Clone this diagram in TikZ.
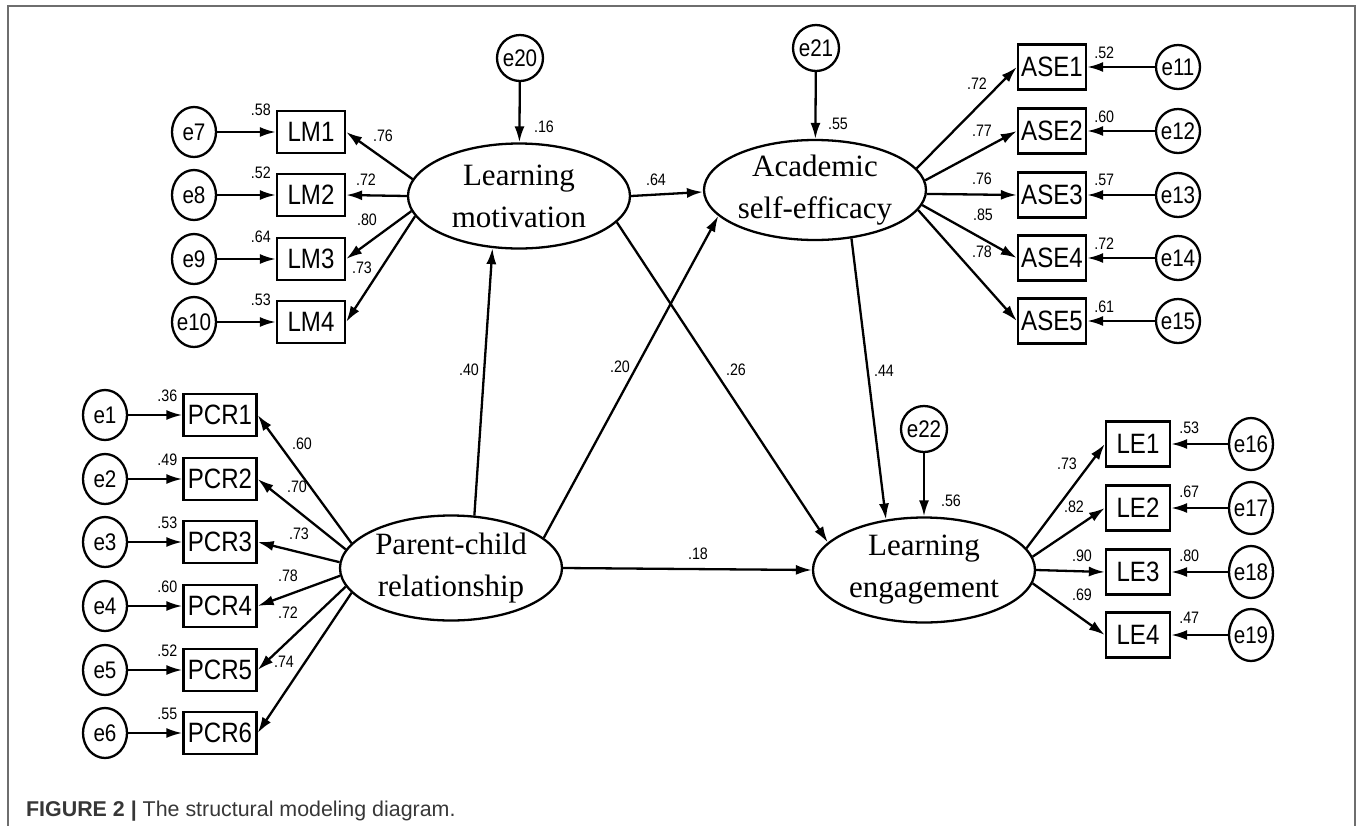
\documentclass[tikz,border=0pt]{standalone}
\usepackage{fontspec}
\setmainfont{Liberation Serif}
\setsansfont{Liberation Sans}
\newfontfamily\narrowsans[FakeStretch=0.86]{Liberation Sans}
\usetikzlibrary{arrows.meta,shapes.geometric,positioning}
\definecolor{framegray}{RGB}{110,110,110}
\definecolor{capgray}{RGB}{55,55,55}
\begin{document}
\begin{tikzpicture}[x=0.5pt, y=-0.5pt, line width=1.15pt, >={Latex[length=8pt,width=5pt]},
    latent/.style={draw, ellipse, inner xsep=-4pt, inner ysep=0pt, minimum width=111pt, minimum height=52.5pt, align=center, font=\fontsize{15.5}{21}\selectfont},
    item/.style={draw, rectangle, inner sep=1pt, minimum width=34pt, minimum height=21pt, font=\fontsize{14}{16}\narrowsans},
    err/.style={draw, ellipse, inner xsep=-3pt, inner ysep=0pt, minimum width=22pt, minimum height=25pt, font=\fontsize{12}{14}\narrowsans},
    coef/.style={inner sep=1pt, font=\fontsize{8.3}{10}\narrowsans}]
    \useasboundingbox (0,0) rectangle (1357,826);

    % frame and caption
    \draw [framegray, line width=0.75pt] (8,840) -- (8,6) -- (1355,6) -- (1355,840);
    \node [anchor=base west, inner sep=0pt, text=capgray, font=\sffamily\fontsize{10.7}{13}\selectfont] (caption) at (25,816) {\textbf{FIGURE 2 |} The structural modeling diagram.};

    % latent variables
    \node [latent] (LM)  at (519,196) {Learning\\motivation};
    \node [latent, minimum height=50pt] (ASE) at (815,190) {Academic\\self-efficacy};
    \node [latent] (PCR) at (451,568) {Parent-child\\relationship};
    \node [latent] (LE)  at (924,570) {Learning\\engagement};

    % disturbances
    \foreach \ei/\x/\y/\tgt/\rv/\rx/\ry in {20/520/58/LM/16/544/127, 21/816/48/ASE/55/838/124, 22/924/429/LE/56/951/501} {
        \node [err, minimum width=23pt, minimum height=23pt] (e\ei) at (\x,\y) {e\ei};
        \draw [->] (e\ei) -- (\tgt);
        \node [coef] (r\ei) at (\rx,\ry) {.\rv};
    }

    % learning motivation items
    \foreach \i/\y/\ang/\rv/\lv/\lx/\ly in {1/132/171/58/76/383/136, 2/195/180/52/72/366/180, 3/259/188/64/80/367/220, 4/322/191/53/73/362/268} {
        \pgfmathtruncatemacro\ei{\i+6}
        \node [item] (LM\i) at (311,\y) {LM\i};
        \node [err] (e\ei) at (194,\y) {e\ei};
        \draw [->] (e\ei) -- (LM\i);
        \draw [->] (LM.\ang) -- (LM\i.east);
        \node [coef, left=1pt of LM\i.north west] (r\ei) {.\rv};
        \node [coef] (l\ei) at (\lx,\ly) {.\lv};
    }

    % parent-child relationship items
    \foreach \i/\y/\ang/\rv/\lv/\lx/\ly in {1/415/166/36/60/302/444, 2/479/170/49/70/297/487, 3/542/177/53/73/299/534, 4/606/184/60/78/288/576, 5/670/190/52/72/288/613, 6/733/194/55/74/284/662} {
        \node [item, minimum width=36.5pt] (PCR\i) at (220,\y) {PCR\i};
        \node [err] (e\i) at (105,\y) {e\i};
        \draw [->] (e\i) -- (PCR\i);
        \draw [->] (PCR.\ang) -- (PCR\i.east);
        \node [coef, left=1pt of PCR\i.north west, yshift=-1.5pt] (r\i) {.\rv};
        \node [coef] (l\i) at (\lx,\ly) {.\lv};
    }

    % academic self-efficacy items
    \foreach \i/\y/\ang/\rv/\lv/\lx/\ly in {1/67/12/52/72/977/84, 2/131/5/60/77/982/131, 3/195/358/57/76/982/179, 4/258/352/72/85/983/215, 5/321/349/61/78/982/252} {
        \pgfmathtruncatemacro\ei{\i+10}
        \node [item, minimum height=22.5pt] (ASE\i) at (1052,\y) {ASE\i};
        \node [err, minimum height=22pt] (e\ei) at (1178,\y) {e\ei};
        \draw [->] (e\ei) -- (ASE\i);
        \draw [->] (ASE.\ang) -- (ASE\i.west);
        \node [coef, below right=0pt and 2pt of ASE\i.north east] (r\ei) {.\rv};
        \node [coef] (l\ei) at (\lx,\ly) {.\lv};
    }

    % learning engagement items
    \foreach \i/\y/\ang/\rv/\lv/\lx/\ly in {1/444/12/53/73/1067/464, 2/508/7/67/82/1074/507, 3/572/0/80/90/1082/556, 4/635/353/47/69/1082/595} {
        \pgfmathtruncatemacro\ei{\i+15}
        \node [item, minimum width=32pt, minimum height=22.5pt] (LE\i) at (1138,\y) {LE\i};
        \node [err, minimum height=26pt] (e\ei) at (1251,\y) {e\ei};
        \draw [->] (e\ei) -- (LE\i);
        \draw [->] (LE.\ang) -- (LE\i.west);
        \node [coef, below right=-1pt and 2.5pt of LE\i.north east] (r\ei) {.\rv};
        \node [coef] (l\ei) at (\lx,\ly) {.\lv};
    }

    % structural paths
    \draw [->] (PCR.66)   -- (LM.243);
    \draw [->] (PCR.18)   -- (ASE.195);
    \draw [->] (PCR.east) -- (LE.west);
    \draw [->] (LM.east)  -- (ASE.181);
    \draw [->] (LM.345)   -- (LE.164);
    \draw [->] (ASE.307)  -- (LE.127);

    \foreach \n/\x/\y/\v in {pl/469/370/40, pa/620/367/20, ml/736/370/26, al/884/371/44, pe/698/554/18, ma/656/180/64} {
        \node [coef] (\n) at (\x,\y) {.\v};
    }
\end{tikzpicture}
\end{document}
